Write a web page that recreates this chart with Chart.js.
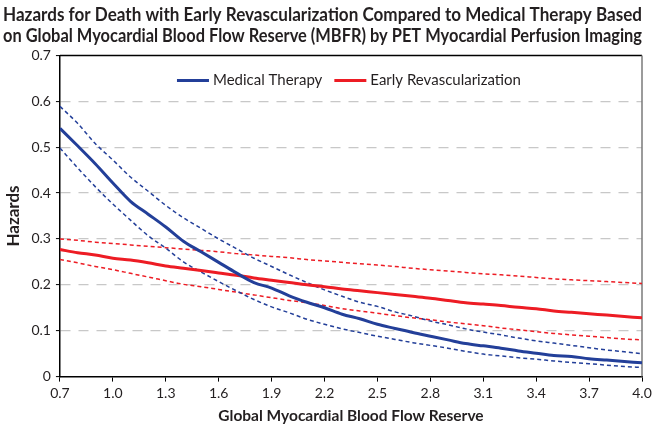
<!DOCTYPE html>
<html>
<head>
<meta charset="utf-8">
<script src="https://cdn.jsdelivr.net/npm/chart.js@4/dist/chart.umd.min.js"></script>
<style>
html, body { margin: 0; padding: 0; background: #fff; }
</style>
</head>
<body>
<canvas id="Chart" width="655" height="427"></canvas>
<script>
// 横軸 (MBFR)
let mbfr = [0.7, 0.8, 0.9, 1.0, 1.1, 1.2, 1.3, 1.4, 1.5, 1.6, 1.7, 1.8, 1.9, 2.0, 2.1, 2.2, 2.3,
            2.4, 2.5, 2.6, 2.7, 2.8, 2.9, 3.0, 3.1, 3.2, 3.3, 3.4, 3.5, 3.6, 3.7, 3.8, 3.9, 4.0];
let xTicks = [0.7, 1.0, 1.3, 1.6, 1.9, 2.2, 2.5, 2.8, 3.1, 3.4, 3.7, 4.0];

// Medical Therapy
let medical = [0.541, 0.503, 0.464, 0.422, 0.382, 0.354, 0.326, 0.295, 0.272, 0.249, 0.226, 0.205,
               0.193, 0.176, 0.162, 0.150, 0.136, 0.126, 0.114, 0.105, 0.096, 0.088, 0.080, 0.072,
               0.067, 0.062, 0.056, 0.051, 0.046, 0.044, 0.039, 0.036, 0.033, 0.030];
let medicalUpper = [0.589, 0.552, 0.508, 0.472, 0.435, 0.404, 0.373, 0.346, 0.323, 0.300, 0.279, 0.258,
                    0.240, 0.222, 0.205, 0.189, 0.175, 0.162, 0.153, 0.141, 0.132, 0.121, 0.113, 0.104,
                    0.097, 0.091, 0.084, 0.078, 0.073, 0.068, 0.063, 0.058, 0.054, 0.050];
let medicalLower = [0.498, 0.455, 0.414, 0.376, 0.341, 0.307, 0.280, 0.250, 0.228, 0.207, 0.187, 0.168,
                    0.152, 0.139, 0.125, 0.114, 0.104, 0.096, 0.088, 0.081, 0.074, 0.068, 0.062, 0.055,
                    0.049, 0.045, 0.041, 0.038, 0.034, 0.031, 0.028, 0.025, 0.022, 0.020];

// Early Revascularization
let revasc = [0.277, 0.270, 0.265, 0.258, 0.254, 0.248, 0.241, 0.236, 0.231, 0.226, 0.221, 0.215,
              0.210, 0.205, 0.200, 0.196, 0.191, 0.187, 0.183, 0.179, 0.175, 0.171, 0.166, 0.161,
              0.158, 0.155, 0.151, 0.148, 0.143, 0.140, 0.137, 0.134, 0.131, 0.128];
let revascUpper = [0.300, 0.297, 0.293, 0.290, 0.287, 0.284, 0.281, 0.278, 0.275, 0.272, 0.268, 0.265,
                   0.262, 0.259, 0.255, 0.252, 0.249, 0.246, 0.243, 0.240, 0.236, 0.233, 0.230, 0.227,
                   0.224, 0.222, 0.219, 0.216, 0.213, 0.211, 0.209, 0.207, 0.205, 0.203];
let revascLower = [0.255, 0.248, 0.240, 0.233, 0.225, 0.217, 0.209, 0.201, 0.196, 0.190, 0.184, 0.178,
                   0.172, 0.166, 0.161, 0.155, 0.148, 0.143, 0.138, 0.133, 0.128, 0.124, 0.119, 0.115,
                   0.111, 0.106, 0.102, 0.098, 0.094, 0.091, 0.088, 0.085, 0.082, 0.080];

let blue = '#233f99';
let red = '#ed1c24';
let textColor = '#231f20';
let narrow = "'Liberation Sans Narrow', Lato, sans-serif";
let regular = "Lato, sans-serif";

function pts(arr) {
  return mbfr.map((x, i) => ({x: x, y: arr[i]}));
}

function line(label, arr, color, dotted) {
  return {
    label: label,
    data: pts(arr),
    borderColor: color,
    backgroundColor: color,
    borderWidth: dotted ? 1.5 : 3,
    borderDash: dotted ? [4, 3] : [],
    pointRadius: 0,
    cubicInterpolationMode: 'monotone',
    fill: false,
  };
}

// 枠線 (上と右)
const framePlugin = {
  id: 'frame',
  beforeDatasetsDraw(chart) {
    const {ctx, chartArea: a} = chart;
    ctx.save();
    ctx.lineWidth = 1.5;
    ctx.strokeStyle = '#000';
    ctx.beginPath();
    ctx.moveTo(a.left, a.top);
    ctx.lineTo(a.right, a.top);
    ctx.stroke();
    ctx.strokeStyle = '#7a7a7a';
    ctx.beginPath();
    ctx.moveTo(a.right, a.top);
    ctx.lineTo(a.right, a.bottom);
    ctx.stroke();
    ctx.restore();
  }
};

// 凡例 (グラフ内の上部、横並び)
const legendPlugin = {
  id: 'innerLegend',
  afterDatasetsDraw(chart) {
    const {ctx, chartArea: a} = chart;
    const items = chart.data.datasets.slice(0, 2);
    const lineLen = 32, gap = 4, itemGap = 12;
    ctx.save();
    ctx.font = '15px ' + regular;
    let total = 0;
    items.forEach((d, i) => {
      total += lineLen + gap + ctx.measureText(d.label).width + (i ? itemGap : 0);
    });
    let x = (a.left + a.right) / 2 - total / 2 - 2;
    const y = a.top + 25;
    ctx.textBaseline = 'middle';
    items.forEach((d, i) => {
      if (i) x += itemGap;
      ctx.strokeStyle = d.borderColor;
      ctx.lineWidth = 3;
      ctx.beginPath();
      ctx.moveTo(x, y);
      ctx.lineTo(x + lineLen, y);
      ctx.stroke();
      x += lineLen + gap;
      ctx.fillStyle = textColor;
      ctx.fillText(d.label, x, y);
      x += ctx.measureText(d.label).width;
    });
    ctx.restore();
  }
};

let lineCtx = document.getElementById('Chart');
let lineConfig = {
  type: 'line',
  data: {
    datasets: [
      line('Medical Therapy', medical, blue, false),
      line('Early Revascularization', revasc, red, false),
      line('Medical Therapy upper', medicalUpper, blue, true),
      line('Medical Therapy lower', medicalLower, blue, true),
      line('Early Revascularization upper', revascUpper, red, true),
      line('Early Revascularization lower', revascLower, red, true),
    ],
  },
  options: {
    responsive: false,
    animation: false,
    devicePixelRatio: 1,
    layout: {padding: {left: 3, right: 13, top: 2, bottom: 2}},
    plugins: {
      title: {
        display: true,
        text: ['Hazards for Death with Early Revascularization Compared to Medical Therapy Based',
               'on Global Myocardial Blood Flow Reserve (MBFR) by PET Myocardial Perfusion Imaging'],
        color: textColor,
        font: {family: narrow, size: 18, weight: 'bold', lineHeight: 1.15},
        padding: {top: 3, bottom: 9},
      },
      legend: {display: false},
      tooltip: {enabled: false},
    },
    scales: {
      x: {
        type: 'linear',
        min: 0.7,
        max: 4.0,
        afterBuildTicks: scale => { scale.ticks = xTicks.map(v => ({value: v})); },
        ticks: {
          callback: v => v.toFixed(1),
          autoSkip: false,
          maxRotation: 0,
          color: textColor,
          font: {family: regular, size: 14},
          padding: 3,
        },
        grid: {drawOnChartArea: false, tickLength: 5, tickColor: '#000', tickWidth: 1},
        border: {color: '#000', width: 1.5},
        title: {
          display: true,
          text: 'Global Myocardial Blood Flow Reserve',
          color: textColor,
          font: {family: regular, size: 15.5, weight: 'bold'},
          padding: {top: 2, bottom: 0},
        },
      },
      y: {
        min: 0,
        max: 0.7,
        ticks: {
          stepSize: 0.1,
          callback: v => v === 0 ? '0' : v.toFixed(1),
          color: textColor,
          font: {family: regular, size: 14},
          padding: 5,
        },
        grid: {
          color: c => (c.tick && c.tick.value > 0.001 && c.tick.value < 0.699) ? '#c8c8c8' : 'rgba(0,0,0,0)',
          lineWidth: 1.2,
          tickLength: 4,
          tickColor: '#000',
          tickWidth: 1,
          tickBorderDash: [],
        },
        border: {color: '#000', width: 1.5, dash: [10, 8]},
        title: {
          display: true,
          text: 'Hazards',
          color: textColor,
          font: {family: regular, size: 17, weight: 'bold'},
          padding: {top: 0, bottom: 3},
        },
      },
    },
  },
  plugins: [framePlugin, legendPlugin],
};
let lineChart = new Chart(lineCtx, lineConfig);
</script>
</body>
</html>
